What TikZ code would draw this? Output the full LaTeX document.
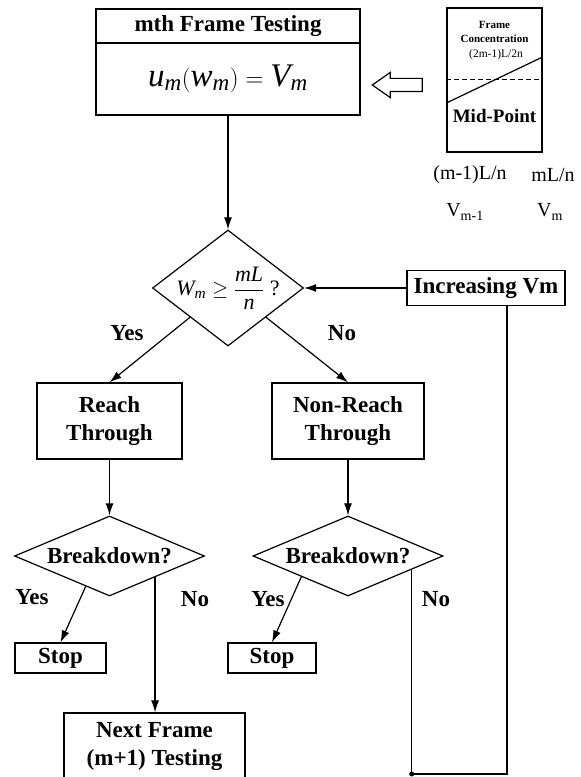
\documentclass[tikz,border=0pt]{standalone}
\usepackage{amsmath}
\usepackage{fontspec}
\setmainfont{Liberation Serif}
\usetikzlibrary{shapes.geometric,shapes.arrows,arrows.meta}

\begin{document}
\begin{tikzpicture}[x=1pt,y=1pt,
  box/.style={draw=drawColor,line width=1.2pt,inner sep=0pt,align=center,font=\fontsize{23}{28}\selectfont\bfseries},
  cond/.style={diamond,draw=drawColor,line width=1.2pt,inner sep=0pt,font=\fontsize{23}{28}\selectfont\bfseries},
  lbl/.style={inner sep=0pt,font=\fontsize{23}{28}\selectfont\bfseries},
  note/.style={inner sep=0pt,font=\fontsize{20}{24}\selectfont},
  flow/.style={draw=drawColor,line width=1.2pt,-{Latex[length=12pt,width=8pt]}},
  wire/.style={draw=drawColor,line width=1.2pt}]
\definecolor{drawColor}{RGB}{0,0,0}
\definecolor{fillColor}{RGB}{255,255,255}
\path[use as bounding box,fill=fillColor] (0,0) rectangle (581,777);
\begin{scope}
\path[clip] (0,0) rectangle (581,777);

% frame testing box
\node[box,minimum width=264,minimum height=34] (head) at (228,751) {mth Frame Testing};
\node[box,minimum width=264,minimum height=72,font=\fontsize{33}{38}\selectfont] (eq) at (228,698) {$\mathit{u}_{\mathit{m}}(\mathit{w}_{\mathit{m}})=\mathit{V}_{\mathit{m}}$};

% concentration sketch
\node[draw=drawColor,line width=1.2pt,minimum width=95,minimum height=144,inner sep=0pt] (conc) at (494.5,697) {};
\node[inner sep=0pt,align=center,font=\fontsize{11}{14}\selectfont\bfseries] (conctitle) at (494.5,745) {Frame\\Concentration};
\node[inner sep=0pt,font=\fontsize{11.5}{14}\selectfont] (concval) at (496,722) {(2m-1)L/2n};
\draw[draw=drawColor,line width=0.8pt,dash pattern=on 5pt off 3pt] (conc.west |- 0,698) -- (conc.east |- 0,698);
\draw[wire] (conc.west |- 0,674) -- (conc.east |- 0,720);
\node[inner sep=0pt,font=\fontsize{19}{22}\selectfont\bfseries] (concmid) at (494.5,661) {Mid-Point};
\node[single arrow,draw=drawColor,line width=1.2pt,shape border rotate=180,minimum height=50,
  single arrow head extend=6,single arrow tip angle=70,inner xsep=0pt,inner ysep=6pt] (hollow) at (402,692) {};

\node[note] (lowpos) at (470,602) {(m-1)L/n};
\node[note] (highpos) at (553,602) {mL/n};
\node[note] (lowv) at (465,565) {$\mathrm{V}_{\text{m-1}}$};
\node[note] (highv) at (550,565) {$\mathrm{V}_{\text{m}}$};

% decisions
\node[cond,minimum width=151,minimum height=116,font=\fontsize{22}{26}\selectfont] (reachq) at (228,489)
  {\makebox[0pt]{$\mathit{W}_{\mathit{m}}\ge\dfrac{\mathit{mL}}{\mathit{n}}$ ?}};
\node[box,minimum width=158,minimum height=35] (incr) at (486,489) {Increasing Vm};

\node[lbl] (yesa) at (127,444) {Yes};
\node[lbl] (noa) at (342,444) {No};

\node[box,minimum width=145,minimum height=76] (reach) at (109.5,356) {Reach\\Through};
\node[box,minimum width=152,minimum height=76] (nonreach) at (348,356) {Non-Reach\\Through};

\node[cond,minimum width=190,minimum height=80] (breakl) at (109.5,221) {\makebox[0pt]{Breakdown?}};
\node[cond,minimum width=190,minimum height=80] (breakr) at (348,221) {\makebox[0pt]{Breakdown?}};

\node[lbl] (yesb) at (32,180) {Yes};
\node[lbl] (nob) at (195,178) {No};
\node[lbl] (yesc) at (268,178) {Yes};
\node[lbl] (noc) at (436,178) {No};

\node[box,minimum width=91,minimum height=30] (stopl) at (60.5,119) {Stop};
\node[box,minimum width=88,minimum height=30] (stopr) at (272,119) {Stop};
\node[box,minimum width=181,minimum height=68] (next) at (154.5,30) {Next Frame\\(m+1) Testing};

\coordinate (loop) at (507,3);

% connectors
\draw[flow] (eq.south) -- (reachq.north);
\draw[flow] (incr.west) -- (reachq.east);
\draw[flow] (reachq.south west) -- (reach.north);
\draw[flow] (reachq.south east) -- (nonreach.north);
\draw[flow] (reach.south) -- (breakl.north);
\draw[flow] (nonreach.south) -- (breakr.north);
\draw[flow] (breakl.232) -- (stopl.north);
\draw[flow] (breakl.335) -- (breakl.335 |- next.north);
\draw[flow] (breakr.204) -- (stopr.north);
\draw[wire] (breakr.348) |- (loop) -- (loop |- incr.south);
\fill[drawColor] (breakr.348 |- loop) circle (2.5);
\end{scope}
\end{tikzpicture}
\end{document}
